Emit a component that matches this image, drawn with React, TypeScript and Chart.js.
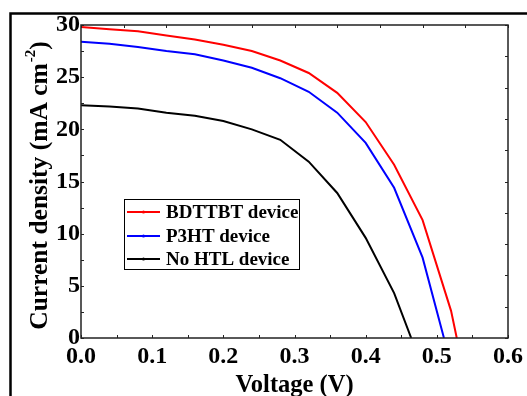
import React, { useEffect, useRef } from "react";
import { Chart, registerables } from "chart.js";

Chart.register(...registerables);

const seriesNames = ["BDTTBT device", "P3HT device", "No HTL device"];
const seriesColors = ["#ff0000", "#0000ff", "#000000"];

const bdttbtV = [0, 0.04, 0.08, 0.12, 0.16, 0.2, 0.24, 0.28, 0.32, 0.36, 0.4, 0.44, 0.48, 0.52, 0.528];
const bdttbtJ = [29.8, 29.6, 29.4, 29.0, 28.6, 28.1, 27.5, 26.6, 25.4, 23.5, 20.7, 16.6, 11.3, 2.6, 0];

const p3htV = [0, 0.04, 0.08, 0.12, 0.16, 0.2, 0.24, 0.28, 0.32, 0.36, 0.4, 0.44, 0.48, 0.51];
const p3htJ = [28.4, 28.2, 27.9, 27.5, 27.2, 26.6, 25.9, 24.9, 23.6, 21.6, 18.7, 14.4, 7.7, 0];

const noHtlV = [0, 0.04, 0.08, 0.12, 0.16, 0.2, 0.24, 0.28, 0.32, 0.36, 0.4, 0.44, 0.464];
const noHtlJ = [22.3, 22.2, 22.0, 21.6, 21.3, 20.8, 20.0, 19.0, 16.9, 13.9, 9.6, 4.3, 0];

const xTicks = [0, 0.1, 0.2, 0.3, 0.4, 0.5, 0.6];
const yTicks = [0, 5, 10, 15, 20, 25, 30];

const FONT = "'Liberation Serif', 'Times New Roman', serif";

const toPoints = (xs: number[], ys: number[]) => xs.map((x, i) => ({ x, y: ys[i] }));

const decorPlugin = {
  id: "decor",
  afterDraw(chart: any) {
    const { ctx, chartArea: a, scales } = chart;
    const xs = scales.x;
    const ys = scales.y;
    ctx.save();
    // outer frame
    ctx.strokeStyle = "#000";
    ctx.lineWidth = 2.5;
    ctx.strokeRect(10.5, 13.5, 700, 600);
    // axes box
    ctx.strokeStyle = "#222";
    ctx.lineWidth = 1.5;
    ctx.strokeRect(a.left, a.top, a.right - a.left, a.bottom - a.top);
    ctx.lineWidth = 1;
    ctx.beginPath();
    const tl = 3;
    for (let v = 0; v <= 0.6001; v += 0.05) {
      const px = Math.round(xs.getPixelForValue(v)) + 0.5;
      ctx.moveTo(px, a.bottom);
      ctx.lineTo(px, a.bottom - tl);
    }
    for (let v = 0; v <= 0.6001; v += 0.06) {
      const px = Math.round(xs.getPixelForValue(v)) + 0.5;
      ctx.moveTo(px, a.top);
      ctx.lineTo(px, a.top + tl);
    }
    for (let v = 0; v <= 30.001; v += 2.5) {
      const py = Math.round(ys.getPixelForValue(v)) + 0.5;
      ctx.moveTo(a.left, py);
      ctx.lineTo(a.left + tl, py);
    }
    for (let v = 0; v <= 30.001; v += 3) {
      const py = Math.round(ys.getPixelForValue(v)) + 0.5;
      ctx.moveTo(a.right, py);
      ctx.lineTo(a.right - tl, py);
    }
    ctx.stroke();

    // y-axis title with superscript
    ctx.fillStyle = "#000";
    ctx.translate(39, (a.top + a.bottom) / 2 + 4);
    ctx.rotate(-Math.PI / 2);
    const main = "Current density (mA cm";
    const sup = "-2";
    const close = ")";
    const big = `bold 25.5px ${FONT}`;
    const small = `bold 15px ${FONT}`;
    ctx.font = big;
    const wMain = ctx.measureText(main).width;
    const wClose = ctx.measureText(close).width;
    ctx.font = small;
    const wSup = ctx.measureText(sup).width;
    const total = wMain + wSup + wClose + 1;
    const x0 = -total / 2;
    ctx.textBaseline = "alphabetic";
    ctx.textAlign = "left";
    ctx.font = big;
    ctx.fillText(main, x0, 8);
    ctx.font = small;
    ctx.fillText(sup, x0 + wMain + 1, -4);
    ctx.font = big;
    ctx.fillText(close, x0 + wMain + wSup + 1, 8);
    ctx.restore();

    // legend
    ctx.save();
    ctx.strokeStyle = "#000";
    ctx.lineWidth = 1;
    ctx.strokeRect(124.5, 199.5, 175, 70);
    const rows = [212, 236, 259];
    chart.data.datasets.forEach((ds: any, i: number) => {
      const y = rows[i];
      ctx.strokeStyle = ds.borderColor;
      ctx.lineWidth = 2;
      ctx.beginPath();
      ctx.moveTo(127, y);
      ctx.lineTo(160, y);
      ctx.stroke();
      ctx.fillStyle = ds.borderColor;
      ctx.beginPath();
      ctx.arc(143.5, y, 1.6, 0, Math.PI * 2);
      ctx.fill();
      ctx.fillStyle = "#000";
      ctx.font = `bold 19px ${FONT}`;
      ctx.textBaseline = "middle";
      ctx.textAlign = "left";
      ctx.fillText(ds.label, 166, y + 1);
    });
    ctx.restore();
  },
};

export default function App() {
  const ref = useRef<HTMLCanvasElement | null>(null);
  useEffect(() => {
    if (!ref.current) return;
    const vs = [bdttbtV, p3htV, noHtlV];
    const js = [bdttbtJ, p3htJ, noHtlJ];
    const chart = new Chart(ref.current, {
      type: "line",
      data: {
        datasets: seriesNames.map((name, i) => ({
          label: name,
          data: toPoints(vs[i], js[i]),
          borderColor: seriesColors[i],
          backgroundColor: seriesColors[i],
          borderWidth: 2,
          pointRadius: 0,
          tension: 0,
          fill: false,
        })),
      },
      options: {
        animation: false,
        responsive: false,
        devicePixelRatio: 1,
        layout: { padding: { top: 25, right: 19, left: 0, bottom: 0 } },
        plugins: { legend: { display: false }, tooltip: { enabled: false } },
        scales: {
          x: {
            type: "linear",
            min: 0,
            max: 0.6,
            afterBuildTicks: (s: any) => {
              s.ticks = xTicks.map((v) => ({ value: v }));
            },
            afterFit: (s: any) => {
              s.height = 58;
            },
            ticks: {
              callback: (v: any) => Number(v).toFixed(1),
              font: { family: FONT, size: 24, weight: "bold" },
              color: "#000",
              padding: 4,
              maxRotation: 0,
            },
            grid: { display: false, drawTicks: false },
            border: { display: false },
            title: {
              display: true,
              text: "Voltage (V)",
              color: "#000",
              font: { family: FONT, size: 24.5, weight: "bold" },
              padding: { top: 0, bottom: -4 },
            },
          },
          y: {
            type: "linear",
            min: 0,
            max: 30,
            afterBuildTicks: (s: any) => {
              s.ticks = yTicks.map((v) => ({ value: v }));
            },
            afterFit: (s: any) => {
              s.width = 81;
            },
            ticks: {
              font: { family: FONT, size: 24, weight: "bold" },
              color: "#000",
              padding: 1,
            },
            grid: { display: false, drawTicks: false },
            border: { display: false },
          },
        },
      },
      plugins: [decorPlugin],
    });
    return () => chart.destroy();
  }, []);
  return (
    <div style={{ position: "fixed", left: 0, top: 0, width: 527, height: 396, background: "#fff" }}>
      <canvas ref={ref} width={527} height={396} style={{ display: "block" }} />
    </div>
  );
}
